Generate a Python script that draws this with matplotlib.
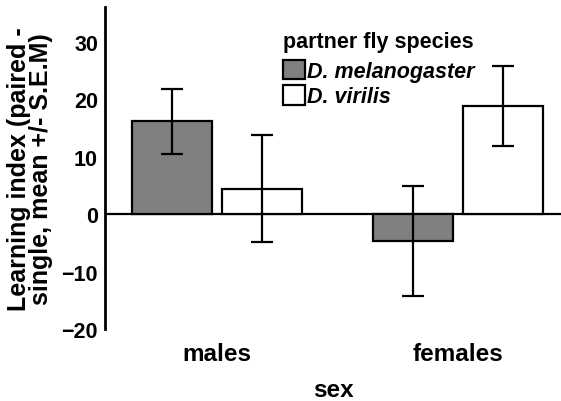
import matplotlib
matplotlib.use("Agg")
import matplotlib.pyplot as plt
import numpy as np

plt.rcParams['font.family'] = ['Liberation Sans', 'DejaVu Sans']
plt.rcParams['font.weight'] = 'bold'

groups = ['males', 'females']
species = ['D. melanogaster', 'D. virilis']
means_mel = [16.1, -4.7]
sem_mel = [5.7, 9.6]
means_vir = [4.4, 18.8]
sem_vir = [9.3, 6.9]

fig = plt.figure(figsize=(5.61, 4.02), dpi=100)
ax = fig.add_axes([0.187, 0.179, 0.813, 0.801])

x = np.arange(len(groups))
w = 0.332
off = 0.187
ax.bar(x - off, means_mel, w, color='#808080', edgecolor='black', linewidth=1.6,
       label=species[0], zorder=2)
ax.bar(x + off, means_vir, w, color='white', edgecolor='black', linewidth=1.6,
       label=species[1], zorder=2)
ax.errorbar(x - off, means_mel, yerr=sem_mel, fmt='none', ecolor='black',
            elinewidth=1.6, capsize=8, capthick=1.6, zorder=3)
ax.errorbar(x + off, means_vir, yerr=sem_vir, fmt='none', ecolor='black',
            elinewidth=1.6, capsize=8, capthick=1.6, zorder=3)
ax.axhline(0, color='black', linewidth=1.6, zorder=1)

ax.set_xlim(-0.465, 1.427)
ax.set_ylim(-20, 36)
ax.set_yticks([-20, -10, 0, 10, 20, 30])
ax.set_xticks(x)
ax.set_xticklabels(groups, fontsize=17.5, fontweight='bold')
ax.tick_params(axis='y', length=0, labelsize=15.5, pad=5)
ax.tick_params(axis='x', length=0, pad=9)
for s in ['top', 'right', 'bottom']:
    ax.spines[s].set_visible(False)
ax.spines['left'].set_linewidth(2)

ax.set_ylabel('Learning index (paired -\nsingle, mean +/- S.E.M)', fontsize=18,
              fontweight='bold', labelpad=6, linespacing=0.9)
ax.set_xlabel('sex', fontsize=17.5, fontweight='bold', labelpad=10)

leg = ax.legend(loc='upper left', bbox_to_anchor=(0.367, 0.96), frameon=False,
                title='partner fly species', handlelength=1.0, handleheight=1.0,
                handletextpad=0.1, borderpad=0, labelspacing=0.15,
                prop={'size': 15.5, 'weight': 'bold', 'style': 'italic'},
                title_fontproperties={'size': 15.5, 'weight': 'bold'})
leg._legend_box.align = 'left'
leg._legend_box.sep = 6

fig.savefig('out.png', dpi=100)
